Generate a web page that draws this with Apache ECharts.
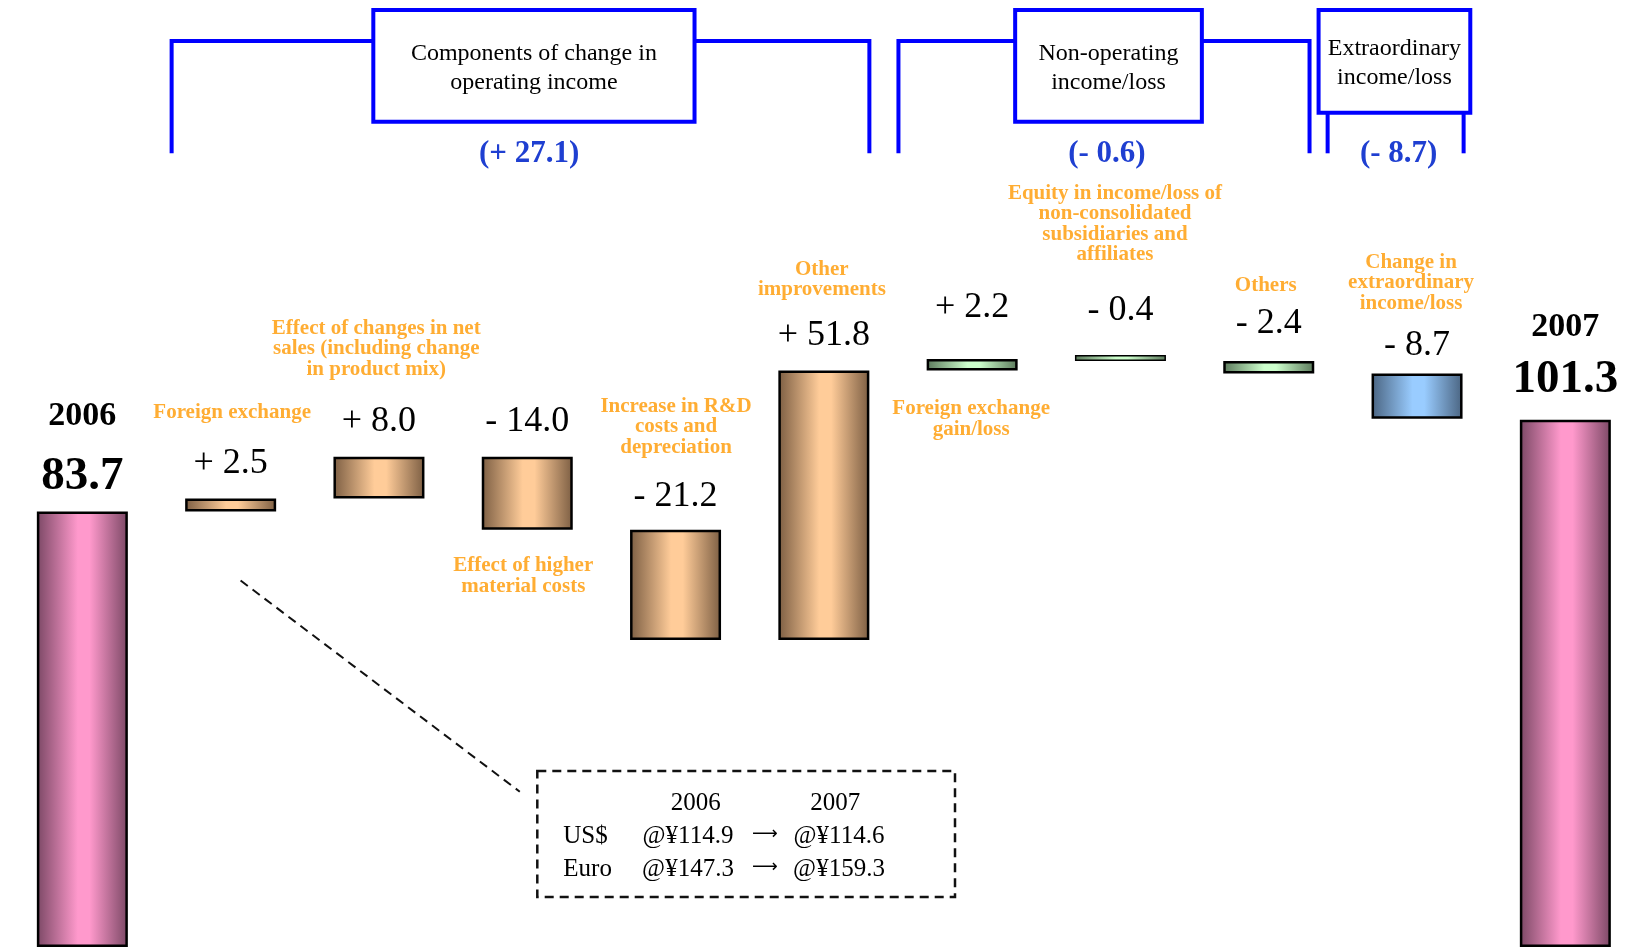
<!DOCTYPE html>
<html>
<head>
<meta charset="utf-8">
<title>Ordinary income change, 2006 to 2007</title>
<script src="https://cdn.jsdelivr.net/npm/echarts@6/dist/echarts.min.js"></script>
<style>
  html, body { margin: 0; padding: 0; background: #ffffff; }
  #chart { width: 1640px; height: 947px; }
</style>
</head>
<body>
<div id="chart"></div>
<script>
// ---- Values (billions of yen) ----
const yearLabels = ['2006', '2007'];
const startValue = 83.7;
const endValue = 101.3;
const stepNames = [
  'Foreign exchange',
  'Effect of changes in net\nsales (including change\nin product mix)',
  'Effect of higher\nmaterial costs',
  'Increase in R&D\ncosts and\ndepreciation',
  'Other\nimprovements',
  'Foreign exchange\ngain/loss',
  'Equity in income/loss of\nnon-consolidated\nsubsidiaries and\naffiliates',
  'Others',
  'Change in\nextraordinary\nincome/loss'
];
const stepChanges = [2.5, 8.0, -14.0, -21.2, 51.8, 2.2, -0.4, -2.4, -8.7];
const groupTitles = [
  'Components of change in\noperating income',
  'Non-operating\nincome/loss',
  'Extraordinary\nincome/loss'
];
const groupTotals = [27.1, -0.6, -8.7];
const currencies = ['US$', 'Euro'];
const rates2006 = [114.9, 147.3];
const rates2007 = [114.6, 159.3];

// ---- Layout and styling ----
const SERIF = '"Liberation Serif", "Times New Roman", serif';
const barKind = ['total', 'op', 'op', 'op', 'op', 'op', 'nonop', 'nonop', 'nonop', 'extra', 'total'];
const shade = {
  total: ['#7b4865', '#ff99cc'],
  op:    ['#7c5e43', '#ffcc99'],
  nonop: ['#5b795b', '#ccffcc'],
  extra: ['#4a6481', '#99ccff']
};
const valueGap = [11.4, 17, 17.7, 17.4, 15.1, 16.8, 33.7, 26.9, 19.1, 9.6, 16.3];
const yearLineHeight = [72.8, 59];
const nameSide = ['top', 'top', 'bottom', 'top', 'top', 'bottom', 'top', 'top', 'top'];
const nameGap = [75.9, 77, 26.1, 72.2, 70.3, 28.2, 94.1, 65.2, 60.1];
const nameShift = [1.5, -2.7, -4, 0.5, -2, -1, -5.5, -3, -6];
// header brackets, in category units along the x axis
const bracketSpan = [[0.602, 5.307], [5.503, 8.275], [8.397, 9.314]];
const boxSpan = [[1.962, 4.128], [6.290, 7.549], [8.336, 9.359]];
const boxBottom = [121.7, 121.7, 112.7];
const titleMid = [68, 68, 63.3];
const titleLine = [28.8, 28.8, 29];
const totalAt = [3.013, 6.909, 8.876];

function gradient(kind) {
  const c = shade[kind];
  return new echarts.graphic.LinearGradient(0, 0, 1, 0, [
    { offset: 0, color: c[0] },
    { offset: 0.45, color: c[1] },
    { offset: 0.58, color: c[1] },
    { offset: 1, color: c[0] }
  ]);
}
function signed(v) {
  return (v >= 0 ? '+ ' : '- ') + Math.abs(v).toFixed(1);
}

// ---- Waterfall stacking ----
const categories = [yearLabels[0]].concat(stepNames, [yearLabels[1]]);
const baseVals = [0];
const riseVals = [startValue];
const stepTop = [];
const stepBottom = [];
let running = startValue;
stepChanges.forEach(function (c) {
  const next = running + c;
  const lo = Math.min(running, next);
  const hi = Math.max(running, next);
  baseVals.push(lo);
  riseVals.push(Math.abs(c));
  stepTop.push(hi);
  stepBottom.push(lo);
  running = next;
});
baseVals.push(0);
riseVals.push(endValue);
const totals = [startValue, endValue];

const riseData = riseVals.map(function (v, i) {
  const item = {
    value: v,
    itemStyle: {
      color: gradient(barKind[i]),
      // very short bars keep a finer outline so their fill stays visible
      borderWidth: v < 1 ? 1.5 : 2.5
    }
  };
  if (i === 0 || i === riseVals.length - 1) {
    const k = i === 0 ? 0 : 1;
    item.label = {
      show: true,
      position: 'top',
      distance: valueGap[i],
      align: 'center',
      formatter: '{y|' + yearLabels[k] + '}\n{v|' + totals[k].toFixed(1) + '}',
      rich: {
        y: { fontFamily: SERIF, fontWeight: 'bold', fontSize: 34, lineHeight: yearLineHeight[k], color: '#000', align: 'center' },
        v: { fontFamily: SERIF, fontWeight: 'bold', fontSize: 47, lineHeight: 47, color: '#000', align: 'center' }
      }
    };
  } else {
    item.label = {
      show: true,
      position: 'top',
      distance: valueGap[i],
      formatter: signed(stepChanges[i - 1])
    };
  }
  return item;
});

const nameData = stepNames.map(function (n, i) {
  return {
    value: [i + 1, nameSide[i] === 'top' ? stepTop[i] : stepBottom[i]],
    label: {
      position: nameSide[i],
      distance: nameGap[i],
      offset: [nameShift[i], 0]
    }
  };
});

const option = {
  animation: false,
  backgroundColor: '#ffffff',
  grid: { left: 8.2, right: 0.5, top: 10.3, bottom: -4, containLabel: false },
  xAxis: {
    type: 'category',
    data: categories,
    show: false
  },
  yAxis: {
    type: 'value',
    min: 0,
    max: 180,
    show: false,
    splitLine: { show: false }
  },
  series: [
    {
      name: 'base',
      type: 'bar',
      stack: 'flow',
      barWidth: 91,
      silent: true,
      itemStyle: { color: 'transparent', borderWidth: 0 },
      data: baseVals
    },
    {
      name: 'change',
      type: 'bar',
      stack: 'flow',
      barWidth: 91,
      barMinHeight: 6,
      silent: true,
      itemStyle: { borderColor: '#000', borderWidth: 2.5 },
      label: {
        show: true,
        position: 'top',
        fontFamily: SERIF,
        fontSize: 36,
        lineHeight: 36,
        color: '#000'
      },
      data: riseData
    },
    {
      name: 'names',
      type: 'scatter',
      symbolSize: 0,
      silent: true,
      itemStyle: { color: 'transparent' },
      label: {
        show: true,
        formatter: function (p) { return stepNames[p.dataIndex]; },
        fontFamily: SERIF,
        fontWeight: 'bold',
        fontSize: 21,
        lineHeight: 20.5,
        color: '#ff9900',
        align: 'center'
      },
      data: nameData
    }
  ]
};

const chart = echarts.init(document.getElementById('chart'), null, { renderer: 'canvas' });
chart.setOption(option);

// ---- Header brackets, subtotals and the exchange-rate note ----
const c0 = chart.convertToPixel({ xAxisIndex: 0 }, 0);
const c1 = chart.convertToPixel({ xAxisIndex: 0 }, 1);
const band = c1 - c0;
const cx = function (u) { return c0 + u * band; };

const BLUE = '#0000ff';
const lineY = 41;
const legEnd = 153.3;
const boxTop = 10;
const g = [];

groupTitles.forEach(function (title, i) {
  const bl = cx(boxSpan[i][0]);
  const br = cx(boxSpan[i][1]);
  const ll = cx(bracketSpan[i][0]);
  const lr = cx(bracketSpan[i][1]);
  if (i < 2) {
    g.push({ type: 'polyline', shape: { points: [[ll, legEnd], [ll, lineY], [bl, lineY]] },
             style: { stroke: BLUE, lineWidth: 4, fill: null }, silent: true });
    g.push({ type: 'polyline', shape: { points: [[br, lineY], [lr, lineY], [lr, legEnd]] },
             style: { stroke: BLUE, lineWidth: 4, fill: null }, silent: true });
  } else {
    g.push({ type: 'line', shape: { x1: ll, y1: boxBottom[i], x2: ll, y2: legEnd },
             style: { stroke: BLUE, lineWidth: 4 }, silent: true });
    g.push({ type: 'line', shape: { x1: lr, y1: boxBottom[i], x2: lr, y2: legEnd },
             style: { stroke: BLUE, lineWidth: 4 }, silent: true });
  }
  g.push({ type: 'rect', shape: { x: bl, y: boxTop, width: br - bl, height: boxBottom[i] - boxTop },
           style: { fill: '#ffffff', stroke: BLUE, lineWidth: 4 }, silent: true });
  g.push({ type: 'text', x: (bl + br) / 2, y: titleMid[i], silent: true,
           style: { text: title, fontFamily: SERIF, fontSize: 24, lineHeight: titleLine[i],
                    fill: '#000', align: 'center', verticalAlign: 'middle' } });
  g.push({ type: 'text', x: cx(totalAt[i]), y: 154, silent: true,
           style: { text: '(' + signed(groupTotals[i]) + ')', fontFamily: SERIF, fontWeight: 'bold',
                    fontSize: 31, fill: '#1f3fd1', align: 'center', verticalAlign: 'middle' } });
});

// note box linked to the foreign exchange bar
g.push({ type: 'line', shape: { x1: 240.6, y1: 580.5, x2: 519.8, y2: 791.7 },
         style: { stroke: '#111', lineWidth: 2, lineDash: [9, 6] }, silent: true });
g.push({ type: 'rect', shape: { x: 537.3, y: 771, width: 417.7, height: 126 },
         style: { fill: null, stroke: '#111', lineWidth: 2.5, lineDash: [9, 6] }, silent: true });

const noteFont = { fontFamily: SERIF, fontSize: 25, fill: '#000', verticalAlign: 'middle' };
function noteText(text, x, y, align, family, size) {
  const style = Object.assign({ text: text, align: align }, noteFont);
  if (family) style.fontFamily = family;
  if (size) style.fontSize = size;
  g.push({ type: 'text', x: x, y: y, silent: true, style: style });
}
noteText(yearLabels[0], 695.8, 803, 'center');
noteText(yearLabels[1], 835.3, 803, 'center');
currencies.forEach(function (cur, r) {
  const y = 836.5 + r * 32.8;
  noteText(cur, 563.3, y, 'left');
  noteText('@\u00a5' + rates2006[r].toFixed(1), 688, y, 'center');
  noteText('\u27f6', 765, y - 2, 'center', '"DejaVu Sans", sans-serif', 18);
  noteText('@\u00a5' + rates2007[r].toFixed(1), 839, y, 'center');
});

chart.setOption({ graphic: { elements: g } });
</script>
</body>
</html>
